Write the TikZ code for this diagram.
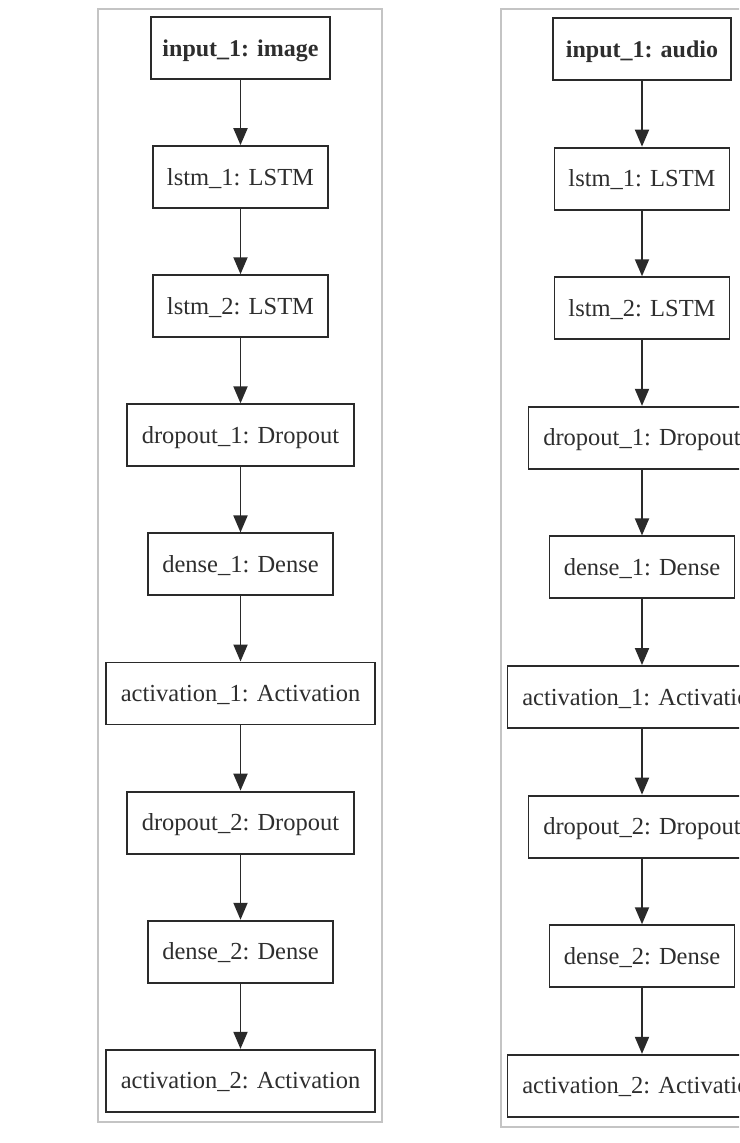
\documentclass[tikz,border=0pt]{standalone}
\usepackage{fontspec}
\setmainfont{Liberation Serif}
\usetikzlibrary{arrows.meta}
\definecolor{boxline}{HTML}{2A2A2A}
\definecolor{txt}{HTML}{2E2E2E}
\definecolor{framec}{HTML}{C4C4C4}
\tikzset{
  layer/.style={draw=boxline, line width=1.9pt, fill=white, minimum height=62pt,
    inner sep=0pt, text height=16.2pt, text depth=0pt, text=txt,
    font=\fontsize{24.5}{29}\selectfont},
  inlayer/.style={layer, font=\fontsize{24}{29}\selectfont\bfseries},
  flow/.style={draw=boxline, line width=1.9pt,
    -{Triangle[length=17pt, width=14pt]}, shorten >=0pt},
  panel/.style={draw=framec, line width=1.2pt}
}
\begin{document}
\begin{tikzpicture}[x=1pt, y=-1pt]
\useasboundingbox (0,0) rectangle (739,1143);
\clip (0,0) rectangle (739,1143);
% panel frames
\draw[panel] (98,9) rectangle (382,1122);
\draw[panel] (501,9) rectangle (783,1127);
% left column
\node[inlayer, minimum width=179pt] (L0) at (240.5,48.0) {input\_1: image};
\node[layer, minimum width=175pt] (L1) at (240.5,177.1) {lstm\_1: LSTM};
\node[layer, minimum width=175pt] (L2) at (240.5,306.2) {lstm\_2: LSTM};
\node[layer, minimum width=227pt] (L3) at (240.5,435.3) {dropout\_1: Dropout};
\node[layer, minimum width=185pt] (L4) at (240.5,564.4) {dense\_1: Dense};
\node[layer, minimum width=269pt] (L5) at (240.5,693.5) {activation\_1: Activation};
\node[layer, minimum width=227pt] (L6) at (240.5,822.6) {dropout\_2: Dropout};
\node[layer, minimum width=185pt] (L7) at (240.5,951.7) {dense\_2: Dense};
\node[layer, minimum width=269pt] (L8) at (240.5,1080.8) {activation\_2: Activation};
% right column
\node[inlayer, minimum width=178pt] (R0) at (642,49.0) {input\_1: audio};
\node[layer, minimum width=175pt] (R1) at (642,178.6) {lstm\_1: LSTM};
\node[layer, minimum width=175pt] (R2) at (642,308.2) {lstm\_2: LSTM};
\node[layer, minimum width=227pt] (R3) at (642,437.8) {dropout\_1: Dropout};
\node[layer, minimum width=185pt] (R4) at (642,567.4) {dense\_1: Dense};
\node[layer, minimum width=269pt] (R5) at (642,697.0) {activation\_1: Activation};
\node[layer, minimum width=227pt] (R6) at (642,826.6) {dropout\_2: Dropout};
\node[layer, minimum width=185pt] (R7) at (642,956.2) {dense\_2: Dense};
\node[layer, minimum width=269pt] (R8) at (642,1085.8) {activation\_2: Activation};
% connectors
\foreach \a/\b in {0/1,1/2,2/3,3/4,4/5,5/6,6/7,7/8}{
  \draw[flow] (L\a.south) -- (L\b.north);
  \draw[flow] (R\a.south) -- (R\b.north);
}
\end{tikzpicture}
\end{document}
